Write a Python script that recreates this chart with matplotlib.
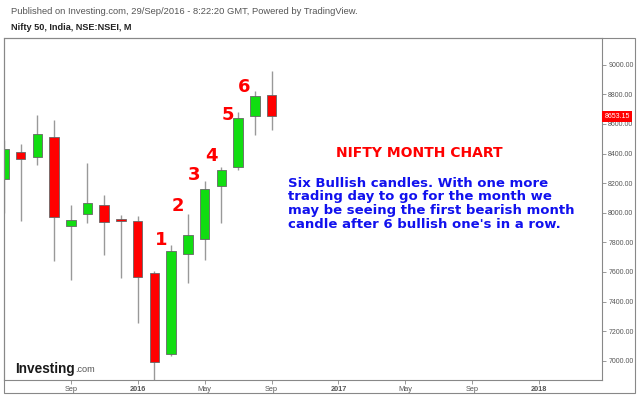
import pandas as pd
import matplotlib
matplotlib.use('Agg')
import matplotlib.pyplot as plt
import matplotlib.transforms as mtrans
from matplotlib.patches import Rectangle
from matplotlib.ticker import FixedLocator, FormatStrFormatter

plt.rcParams['font.family'] = ['Liberation Sans', 'DejaVu Sans']

# monthly candles, NSE Nifty 50
months = ['2015-05', '2015-06', '2015-07', '2015-08', '2015-09', '2015-10',
          '2015-11', '2015-12', '2016-01', '2016-02', '2016-03', '2016-04',
          '2016-05', '2016-06', '2016-07', '2016-08', '2016-09']
opens = [8230, 8414, 8377, 8511, 7909, 7990, 8055, 7958, 7943, 7595,
         7043, 7720, 7826, 8181, 8309, 8653, 8796]
highs = [8489, 8466, 8658, 8624, 8055, 8336, 8118, 7983, 7976, 7605,
         7781, 7995, 8213, 8309, 8678, 8822, 8960]
lows = [7997, 7943, 8320, 7673, 7545, 7934, 7718, 7556, 7252, 6826,
        7035, 7526, 7684, 7931, 8291, 8523, 8562]
closes = [8433, 8365, 8535, 7972, 7949, 8069, 7936, 7945, 7567, 6991,
          7740, 7853, 8159, 8292, 8638, 8786, 8653.15]

tick_months = ['2015-05', '2015-09', '2016-01', '2016-05', '2016-09',
               '2017-01', '2017-05', '2017-09', '2018-01']
tick_labels = ['May', 'Sep', '2016', 'May', 'Sep', '2017', 'May', 'Sep', '2018']
price_ticks = [7000, 7200, 7400, 7600, 7800, 8000, 8200, 8400, 8600, 8800, 9000]

# numbers over the six bullish candles (month, price where the label sits)
count_labels = ['1', '2', '3', '4', '5', '6']
count_x = [1.39, 2.41, 3.37, 4.38, 5.40, 6.35]
count_y = [7814, 8044, 8253, 8381, 8658, 8847]

title_text = 'NIFTY MONTH CHART'
note_text = ("Six Bullish candles. With one more\n"
             "trading day to go for the month we\n"
             "may be seeing the first bearish month\n"
             "candle after 6 bullish one's in a row.")

base = pd.Period('2016-01', 'M')


def midx(s):
    return (pd.Period(s, 'M') - base).n


xs = [midx(m) for m in months]

W, H = 640, 396
fig = plt.figure(figsize=(6.4, 3.96), dpi=100)
ax = fig.add_axes([4 / W, 1 - 380 / H, 598 / W, 342 / H])

green = '#11dd11'
red = '#ff0000'
cols = [green if c >= o else red for o, c in zip(opens, closes)]

ax.vlines(xs, lows, highs, color='#999999', lw=1, zorder=1)
ax.bar(xs, [abs(c - o) for o, c in zip(opens, closes)],
       bottom=[min(o, c) for o, c in zip(opens, closes)],
       width=0.57, color=cols, edgecolor='#666666', lw=0.6, zorder=2)

ax.set_xlim(-7.99, 27.75)
ax.set_ylim(6870, 9181)

ax.xaxis.set_major_locator(FixedLocator([midx(m) for m in tick_months]))
ax.set_xticklabels(tick_labels)
for t in ax.get_xticklabels():
    if t.get_text().isdigit():
        t.set_fontweight('bold')
ax.yaxis.tick_right()
ax.yaxis.set_major_locator(FixedLocator(price_ticks))
ax.yaxis.set_major_formatter(FormatStrFormatter('%.2f'))
ax.tick_params(axis='both', direction='out', length=3, width=0.6,
               color='#888888', labelcolor='#555555', labelsize=5.3)
ax.tick_params(axis='y', pad=1.5, labelsize=5.0)
ax.tick_params(axis='x', pad=1.2)
for s in ax.spines.values():
    s.set_color('#888888')
    s.set_linewidth(0.8)

# last price tag
trans = mtrans.blended_transform_factory(ax.transAxes, ax.transData)
ax.text(1.004, closes[-1], '%.2f' % closes[-1], transform=trans, ha='left',
        va='center', color='white', fontsize=5.0, clip_on=False, zorder=5,
        bbox=dict(boxstyle='square,pad=0.3', fc=red, ec='none'))

for lab, x, y in zip(count_labels, count_x, count_y):
    ax.text(x, y, lab, color=red, fontsize=13, fontweight='bold',
            family='DejaVu Sans', ha='center', va='center')

ax.text(16.81, 8401, title_text, color=red, fontsize=10, fontweight='bold',
        family='DejaVu Sans', ha='center', va='center')
ax.text(8.98, 8245, note_text, color='#1111ee', fontsize=9.5,
        fontweight='bold', family='DejaVu Sans', ha='left', va='top',
        linespacing=1.07)

# outer frame
fig.add_artist(Rectangle((4 / W, 1 - 393 / H), 631 / W, 355 / H,
                         transform=fig.transFigure, fill=False,
                         ec='#888888', lw=0.8))

fig.text(11 / W, 1 - 11 / H,
         'Published on Investing.com, 29/Sep/2016 - 8:22:20 GMT, Powered by TradingView.',
         fontsize=6.75, color='#555555', va='center')
fig.text(11 / W, 1 - 28 / H, 'Nifty 50, India, NSE:NSEI, M',
         fontsize=6.6, fontweight='bold', color='#222222', va='center')

fig.text(15 / W, 1 - 369 / H, 'Investing', fontsize=9.8, fontweight='bold',
         color='#1a1a1a', va='center')
fig.text(75 / W, 1 - 370 / H, '.com', fontsize=6.6, color='#555555',
         va='center')

fig.savefig('out.png', dpi=100)
